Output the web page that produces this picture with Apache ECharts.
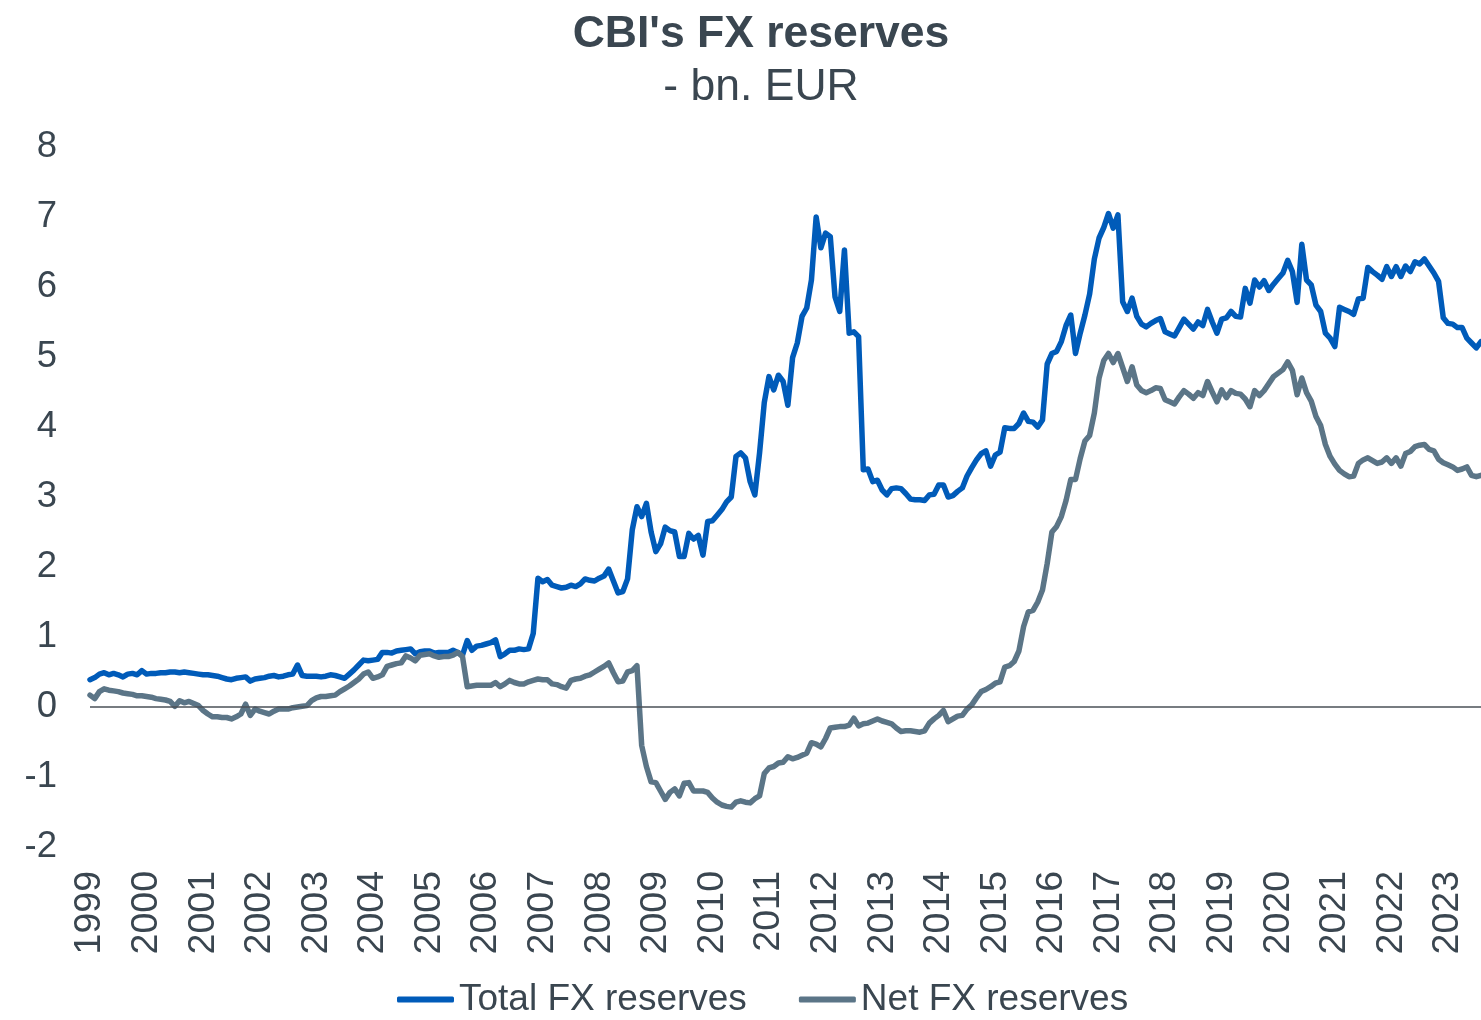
<!DOCTYPE html>
<html lang="en">
<head>
    <meta charset="UTF-8">
    <title>CBI's FX reserves</title>
    <script src="https://cdn.jsdelivr.net/npm/echarts@6/dist/echarts.min.js"></script>
    <style>
        html, body { margin: 0; padding: 0; background: #fff; }
    </style>
</head>
<body>
    <div id="main" style="width:1481px;height:1020px;"></div>

    <script>
    // year tick labels (one per January)
    var years = ['1999','2000','2001','2002','2003','2004','2005','2006','2007','2008','2009','2010',
                 '2011','2012','2013','2014','2015','2016','2017','2018','2019','2020','2021','2022','2023'];

    // total FX reserves, bn EUR, monthly from Jan 1999
    var totalFx = [
        0.39, 0.42, 0.47, 0.49, 0.46, 0.48, 0.46, 0.43, 0.47, 0.48, 0.46, 0.52, // 1999
        0.47, 0.48, 0.48, 0.49, 0.49, 0.50, 0.50, 0.49, 0.50, 0.49, 0.48, 0.47, // 2000
        0.46, 0.46, 0.45, 0.44, 0.42, 0.40, 0.39, 0.41, 0.42, 0.43, 0.37, 0.40, // 2001
        0.41, 0.42, 0.44, 0.45, 0.43, 0.44, 0.46, 0.47, 0.60, 0.45, 0.44, 0.44, // 2002
        0.44, 0.43, 0.44, 0.46, 0.45, 0.43, 0.41, 0.47, 0.53, 0.60, 0.67, 0.66, // 2003
        0.67, 0.68, 0.78, 0.78, 0.77, 0.80, 0.81, 0.82, 0.83, 0.76, 0.79, 0.80, // 2004
        0.80, 0.77, 0.78, 0.78, 0.78, 0.81, 0.78, 0.74, 0.95, 0.81, 0.87, 0.88, // 2005
        0.90, 0.92, 0.96, 0.72, 0.76, 0.81, 0.81, 0.83, 0.82, 0.83, 1.05, 1.84, // 2006
        1.79, 1.82, 1.74, 1.72, 1.70, 1.71, 1.74, 1.72, 1.76, 1.83, 1.81, 1.80, // 2007
        1.84, 1.87, 1.97, 1.80, 1.63, 1.65, 1.83, 2.53, 2.86, 2.72, 2.91, 2.50, // 2008
        2.22, 2.33, 2.57, 2.52, 2.50, 2.15, 2.15, 2.48, 2.40, 2.45, 2.17, 2.65, // 2009
        2.66, 2.74, 2.82, 2.93, 3.00, 3.58, 3.63, 3.56, 3.22, 3.03, 3.63, 4.35, // 2010
        4.72, 4.53, 4.74, 4.65, 4.31, 4.99, 5.20, 5.58, 5.70, 6.10, 7.00, 6.56, // 2011
        6.77, 6.72, 5.86, 5.65, 6.53, 5.34, 5.36, 5.29, 3.39, 3.40, 3.22, 3.24, // 2012
        3.10, 3.03, 3.12, 3.13, 3.12, 3.05, 2.97, 2.96, 2.96, 2.95, 3.03, 3.04, // 2013
        3.17, 3.17, 3.00, 3.02, 3.08, 3.13, 3.30, 3.42, 3.53, 3.62, 3.66, 3.44, // 2014
        3.60, 3.64, 3.99, 3.98, 3.98, 4.05, 4.20, 4.08, 4.07, 4.00, 4.10, 4.90, // 2015
        5.05, 5.08, 5.22, 5.45, 5.60, 5.05, 5.34, 5.60, 5.90, 6.40, 6.70, 6.85, // 2016
        7.05, 6.84, 7.03, 5.79, 5.65, 5.84, 5.58, 5.47, 5.43, 5.48, 5.52, 5.55, // 2017
        5.36, 5.33, 5.30, 5.42, 5.54, 5.47, 5.40, 5.50, 5.45, 5.68, 5.50, 5.34, // 2018
        5.54, 5.56, 5.65, 5.58, 5.57, 5.98, 5.77, 6.10, 6.00, 6.09, 5.95, 6.04, // 2019
        6.12, 6.20, 6.38, 6.22, 5.78, 6.61, 6.10, 6.03, 5.74, 5.65, 5.34, 5.27, // 2020
        5.15, 5.71, 5.68, 5.65, 5.61, 5.83, 5.84, 6.28, 6.22, 6.17, 6.11, 6.29, // 2021
        6.15, 6.29, 6.15, 6.30, 6.22, 6.36, 6.33, 6.40, 6.30, 6.20, 6.08, 5.56, // 2022
        5.48, 5.47, 5.42, 5.42, 5.27, 5.20, 5.13, 5.22                          // 2023
    ];

    // net FX reserves, bn EUR, monthly from Jan 1999
    var netFx = [
        0.17, 0.12, 0.22, 0.26, 0.24, 0.23, 0.22, 0.20, 0.19, 0.18, 0.16, 0.16, // 1999
        0.15, 0.14, 0.12, 0.11, 0.10, 0.08, 0.01, 0.09, 0.06, 0.08, 0.05, 0.02, // 2000
        -0.05, -0.10, -0.14, -0.14, -0.15, -0.15, -0.17, -0.14, -0.10, 0.04, -0.12, -0.03, // 2001
        -0.06, -0.08, -0.10, -0.06, -0.03, -0.03, -0.03, -0.01, 0.00, 0.01, 0.02, 0.09, // 2002
        0.13, 0.15, 0.15, 0.16, 0.17, 0.22, 0.26, 0.30, 0.35, 0.40, 0.47, 0.50, // 2003
        0.41, 0.43, 0.46, 0.58, 0.60, 0.62, 0.63, 0.73, 0.70, 0.66, 0.74, 0.75, // 2004
        0.76, 0.73, 0.71, 0.72, 0.72, 0.74, 0.78, 0.72, 0.29, 0.30, 0.31, 0.31, // 2005
        0.31, 0.31, 0.35, 0.29, 0.33, 0.38, 0.35, 0.33, 0.33, 0.36, 0.38, 0.40, // 2006
        0.39, 0.39, 0.33, 0.32, 0.29, 0.27, 0.38, 0.40, 0.41, 0.44, 0.46, 0.50, // 2007
        0.54, 0.58, 0.63, 0.49, 0.36, 0.37, 0.50, 0.52, 0.59, -0.55, -0.85, -1.07, // 2008
        -1.08, -1.20, -1.32, -1.22, -1.17, -1.27, -1.09, -1.08, -1.20, -1.20, -1.20, -1.22, // 2009
        -1.30, -1.36, -1.40, -1.42, -1.43, -1.36, -1.34, -1.36, -1.37, -1.31, -1.27, -0.95, // 2010
        -0.87, -0.85, -0.80, -0.79, -0.71, -0.74, -0.72, -0.69, -0.66, -0.51, -0.53, -0.57, // 2011
        -0.45, -0.30, -0.29, -0.28, -0.28, -0.26, -0.16, -0.27, -0.24, -0.23, -0.20, -0.17, // 2012
        -0.20, -0.22, -0.24, -0.30, -0.35, -0.34, -0.34, -0.35, -0.36, -0.34, -0.23, -0.17, // 2013
        -0.12, -0.05, -0.21, -0.17, -0.13, -0.12, -0.03, 0.03, 0.13, 0.22, 0.25, 0.29, // 2014
        0.34, 0.36, 0.57, 0.59, 0.65, 0.80, 1.15, 1.36, 1.38, 1.50, 1.67, 2.05, // 2015
        2.50, 2.58, 2.72, 2.95, 3.25, 3.25, 3.55, 3.80, 3.88, 4.20, 4.70, 4.95, // 2016
        5.05, 4.92, 5.05, 4.85, 4.65, 4.86, 4.60, 4.52, 4.49, 4.52, 4.56, 4.55, // 2017
        4.39, 4.36, 4.33, 4.43, 4.52, 4.47, 4.41, 4.49, 4.45, 4.65, 4.50, 4.36, // 2018
        4.53, 4.42, 4.52, 4.48, 4.47, 4.40, 4.29, 4.52, 4.45, 4.52, 4.62, 4.72, // 2019
        4.77, 4.82, 4.93, 4.81, 4.46, 4.70, 4.49, 4.37, 4.15, 4.02, 3.75, 3.58, // 2020
        3.47, 3.38, 3.33, 3.29, 3.30, 3.48, 3.53, 3.56, 3.52, 3.48, 3.50, 3.56, // 2021
        3.48, 3.56, 3.44, 3.62, 3.65, 3.72, 3.74, 3.75, 3.68, 3.66, 3.54, 3.49, // 2022
        3.46, 3.43, 3.38, 3.40, 3.43, 3.31, 3.29, 3.31                          // 2023
    ];

    // monthly categories
    var months = [];
    for (var i = 0; i < totalFx.length; i++) {
        var y = years[Math.floor(i / 12)];
        var m = (i % 12) + 1;
        months.push(y + '-' + (m < 10 ? '0' + m : m));
    }

    var textColor = '#3a4650';
    var font = 'Liberation Sans, Arial, sans-serif';

    var myChart = echarts.init(document.getElementById('main'));
    var option = {
        animation: false,
        backgroundColor: '#ffffff',
        // the original chart is a bit wider than the picture, so titles sit right of centre
        title: {
            text: "CBI's FX reserves",
            subtext: '- bn. EUR',
            left: 756,
            textAlign: 'center',
            top: 7,
            itemGap: 7,
            textStyle: {
                color: textColor, fontFamily: font, fontSize: 44.5, fontWeight: 'bold', lineHeight: 46
            },
            subtextStyle: {
                color: textColor, fontFamily: font, fontSize: 44.5, lineHeight: 46
            }
        },
        legend: {
            left: 392,
            top: 976,
            itemGap: 52,
            itemWidth: 57,
            itemHeight: 6,
            icon: 'roundRect',
            textStyle: { color: textColor, fontFamily: font, fontSize: 37, padding: [0, 0, 0, 0] },
            data: ['Total FX reserves', 'Net FX reserves']
        },
        grid: {
            left: 90,
            right: 0,
            top: 147,
            bottom: 173
        },
        xAxis: {
            type: 'category',
            data: months,
            boundaryGap: false,
            axisLine: { show: false, onZero: false },
            axisTick: { show: false },
            axisLabel: {
                interval: function (index) { return index % 12 === 0; },
                formatter: function (v) { return v.slice(0, 4); },
                rotate: 90,
                margin: 24,
                color: textColor,
                fontFamily: font,
                fontSize: 37.5
            },
            splitLine: { show: false }
        },
        yAxis: {
            type: 'value',
            min: -2,
            max: 8,
            interval: 1,
            axisLine: { show: false },
            axisTick: { show: false },
            splitLine: { show: false },
            axisLabel: {
                margin: 33,
                color: textColor,
                fontFamily: font,
                fontSize: 36.5
            }
        },
        series: [
            {
                name: 'Total FX reserves',
                type: 'line',
                data: totalFx,
                showSymbol: false,
                symbol: 'none',
                color: '#005bb9',
                lineStyle: { width: 5.5, color: '#005bb9', cap: 'round', join: 'round' },
                markLine: {
                    silent: true,
                    symbol: 'none',
                    label: { show: false },
                    lineStyle: { color: '#4a5157', width: 1.5, type: 'solid' },
                    data: [{ yAxis: 0 }]
                }
            },
            {
                name: 'Net FX reserves',
                type: 'line',
                data: netFx,
                showSymbol: false,
                symbol: 'none',
                color: '#5b7587',
                lineStyle: { width: 5.5, color: '#5b7587', cap: 'round', join: 'round' }
            }
        ]
    };
    myChart.setOption(option);
    </script>
</body>
</html>
